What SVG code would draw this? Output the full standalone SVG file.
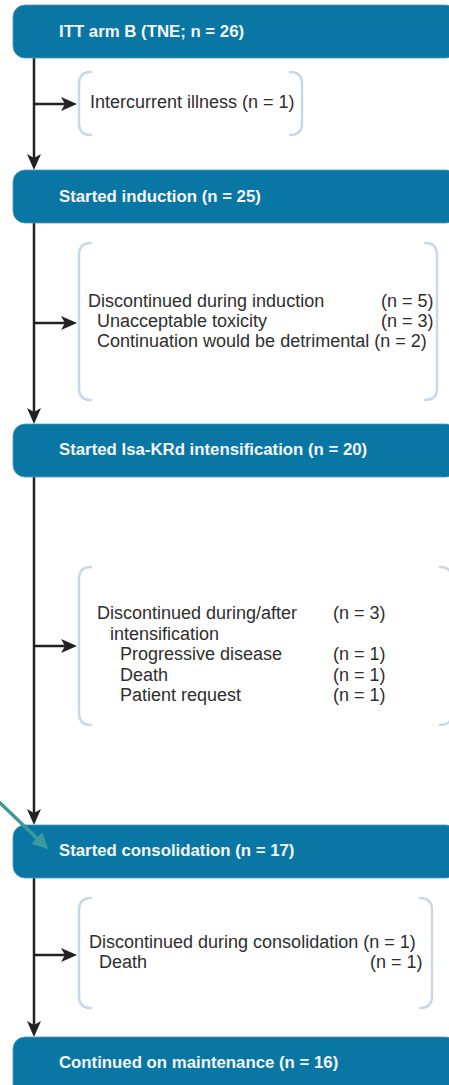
<svg xmlns="http://www.w3.org/2000/svg" width="449" height="1085" viewBox="0 0 449 1085">
  <style>
    .box { fill: #0a76a4; stroke: #4f9cc2; stroke-width: 0.8; }
    .title { font-family: "Liberation Sans", Arial, sans-serif; font-weight: bold; font-size: 16.8px; fill: #f4f6f8; }
    .body { font-family: "Liberation Sans", Arial, sans-serif; font-size: 18px; fill: #2e2e2e; }
    .bracket { fill: none; stroke: #c9d8e6; stroke-width: 2.5; stroke-linecap: round; }
    .flow { fill: none; stroke: #222; stroke-width: 2.5; }
    .pointer { fill: none; stroke: #3a9a9c; stroke-width: 3.5; }
  </style>
  <defs>
    <marker id="ah" viewBox="0 0 16 14" refX="12" refY="7" markerWidth="16" markerHeight="14" markerUnits="userSpaceOnUse" orient="auto">
      <path d="M0,0 L16,7 L0,14 L4,7 Z" fill="#222"/>
    </marker>
    <marker id="teal" viewBox="0 0 16 16" refX="10" refY="8" markerWidth="16" markerHeight="16" markerUnits="userSpaceOnUse" orient="auto">
      <path d="M0,0 L16,8 L0,16 Z" fill="#3a9a9c"/>
    </marker>
  </defs>

  <!-- main flow line and side branches -->
  <g id="connectors">
    <path class="flow" d="M34,58 V166" marker-end="url(#ah)"/>
    <path class="flow" d="M34,223 V420" marker-end="url(#ah)"/>
    <path class="flow" d="M34,477 V821" marker-end="url(#ah)"/>
    <path class="flow" d="M34,878 V1033" marker-end="url(#ah)"/>
    <path class="flow" d="M34,104 H73" marker-end="url(#ah)"/>
    <path class="flow" d="M34,323 H73" marker-end="url(#ah)"/>
    <path class="flow" d="M34,646 H73" marker-end="url(#ah)"/>
    <path class="flow" d="M34,955 H73" marker-end="url(#ah)"/>
  </g>

  <g id="itt">
    <rect class="box" x="13" y="5" width="445" height="53" rx="12"/>
    <text class="title" x="59" y="37">ITT arm B (TNE; n = 26)</text>
  </g>

  <g id="excl-illness">
    <path class="bracket" d="M91,72 Q79,72 79,84 V123 Q79,135 91,135"/>
    <path class="bracket" d="M290,72 Q302,72 302,84 V123 Q302,135 290,135"/>
    <text class="body" x="90" y="108">Intercurrent illness (n = 1)</text>
  </g>

  <g id="induction">
    <rect class="box" x="13" y="170" width="445" height="53" rx="12"/>
    <text class="title" x="59" y="202">Started induction (n = 25)</text>
  </g>

  <g id="disc-induction">
    <path class="bracket" d="M91,243 Q79,243 79,255 V388 Q79,400 91,400"/>
    <path class="bracket" d="M425,243 Q437,243 437,255 V388 Q437,400 425,400"/>
    <text class="body" x="88" y="307">Discontinued during induction</text>
    <text class="body" x="381" y="307">(n = 5)</text>
    <text class="body" x="97" y="327">Unacceptable toxicity</text>
    <text class="body" x="381" y="327">(n = 3)</text>
    <text class="body" x="97" y="347">Continuation would be detrimental (n = 2)</text>
  </g>

  <g id="intensification">
    <rect class="box" x="13" y="424" width="445" height="53" rx="12"/>
    <text class="title" x="59" y="455">Started Isa-KRd intensification (n = 20)</text>
  </g>

  <g id="disc-intensification">
    <path class="bracket" d="M91,567 Q79,567 79,579 V713 Q79,725 91,725"/>
    <path class="bracket" d="M440,567 Q452,567 452,579 V713 Q452,725 440,725"/>
    <text class="body" x="97" y="619">Discontinued during/after</text>
    <text class="body" x="333" y="619">(n = 3)</text>
    <text class="body" x="110" y="640">intensification</text>
    <text class="body" x="120" y="660">Progressive disease</text>
    <text class="body" x="333" y="660">(n = 1)</text>
    <text class="body" x="120" y="681">Death</text>
    <text class="body" x="333" y="681">(n = 1)</text>
    <text class="body" x="120" y="701">Patient request</text>
    <text class="body" x="333" y="701">(n = 1)</text>
  </g>

  <g id="consolidation">
    <rect class="box" x="13" y="825" width="445" height="53" rx="12"/>
    <text class="title" x="59" y="856">Started consolidation (n = 17)</text>
  </g>

  <g id="disc-consolidation">
    <path class="bracket" d="M91,898 Q79,898 79,910 V996 Q79,1008 91,1008"/>
    <path class="bracket" d="M420,898 Q432,898 432,910 V996 Q432,1008 420,1008"/>
    <text class="body" x="89" y="948">Discontinued during consolidation (n = 1)</text>
    <text class="body" x="99" y="968">Death</text>
    <text class="body" x="370" y="968">(n = 1)</text>
  </g>

  <g id="maintenance">
    <rect class="box" x="13" y="1037" width="445" height="60" rx="12"/>
    <text class="title" x="59" y="1068">Continued on maintenance (n = 16)</text>
  </g>

  <!-- teal callout arrow drawn over the consolidation box -->
  <g id="callout">
    <path class="pointer" d="M-2,801 L44,845" marker-end="url(#teal)"/>
  </g>
</svg>
